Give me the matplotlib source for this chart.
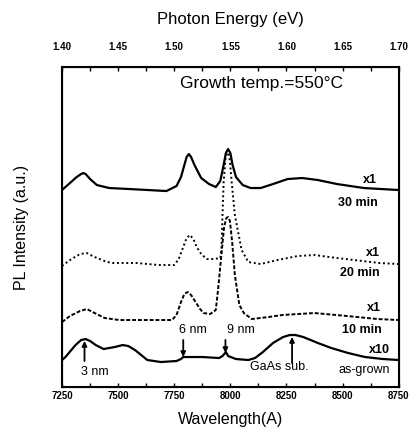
import matplotlib.pyplot as plt
import numpy as np
from matplotlib.ticker import MultipleLocator, FormatStrFormatter

plt.rcParams['font.family'] = ['Liberation Sans', 'DejaVu Sans']

# PL spectra (wavelength in A, intensity in a.u. incl. offsets)
wl_30 = [7250, 7285, 7315, 7335, 7345, 7355, 7375, 7405, 7460, 7550, 7715, 7760, 7780,
         7795, 7805, 7815, 7825, 7840, 7870, 7905, 7935, 7955, 7970, 7980, 7990, 8000,
         8010, 8025, 8055, 8090, 8135, 8190, 8255, 8320, 8390, 8475, 8595, 8750]
pl_30 = [197, 204, 210, 213, 214, 213, 208, 202, 199, 198, 196, 201, 210,
         222, 230, 233, 230, 222, 209, 203, 200, 206, 222, 234, 238, 234,
         222, 210, 202, 199, 199, 203, 208, 209, 207, 203, 199, 197]

wl_20 = [7250, 7285, 7330, 7360, 7395, 7440, 7470, 7585, 7680, 7750, 7770, 7790, 7805,
         7820, 7835, 7850, 7870, 7895, 7925, 7955, 7960, 7965, 7970, 7978, 7985, 7992,
         7998, 8005, 8020, 8050, 8080, 8135, 8210, 8300, 8375, 8475, 8665, 8750]
pl_20 = [121, 127, 133, 134, 130, 126, 124, 124, 122, 122, 128, 140, 149,
         152, 148, 140, 133, 128, 128, 129, 137, 172, 205, 228, 234, 234,
         226, 207, 172, 137, 125, 123, 127, 131, 132, 129, 124, 123]

wl_10 = [7250, 7285, 7330, 7360, 7395, 7440, 7505, 7585, 7680, 7740, 7760, 7780, 7795,
         7810, 7825, 7845, 7865, 7880, 7910, 7935, 7945, 7960, 7972, 7982, 7990, 7998,
         8008, 8020, 8040, 8060, 8095, 8170, 8230, 8375, 8520, 8655, 8750]
pl_10 = [65, 71, 76, 78, 74, 69, 67, 67, 67, 67, 72, 85, 93,
         95, 92, 85, 78, 74, 73, 77, 97, 132, 160, 169, 170, 166,
         145, 112, 82, 74, 68, 70, 72, 74, 71, 68, 67]

wl_ag = [7250, 7265, 7310, 7335, 7355, 7375, 7400, 7435, 7485, 7520, 7545, 7575, 7630,
         7690, 7760, 7780, 7790, 7815, 7875, 7950, 7965, 7980, 7990, 8025, 8080, 8110,
         8145, 8190, 8235, 8265, 8290, 8325, 8390, 8450, 8525, 8600, 8680, 8750]
pl_ag = [27, 30, 42, 47, 48, 46, 42, 38, 40, 42, 41, 37, 27,
         25, 26, 28, 30, 30, 30, 29, 31, 35, 31, 28, 27, 29,
         35, 44, 50, 52, 52, 50, 44, 39, 34, 30, 28, 27]

# marked features on the as-grown spectrum
arrow_wl = [7350, 7790, 7978, 8275]
arrow_from = [26, 47, 47, 24]
arrow_to = [46, 30, 34, 50]

fig = plt.figure(figsize=(4.11, 4.41), dpi=100)
ax = fig.add_axes([0.151, 0.1224, 0.819, 0.7256])

ax.plot(wl_30, pl_30, color='black', lw=1.6)
ax.plot(wl_20, pl_20, color='black', lw=1.4, linestyle=(0, (1, 1.4)))
ax.plot(wl_10, pl_10, color='black', lw=1.4, linestyle=(0, (2, 1)))
ax.plot(wl_ag, pl_ag, color='black', lw=1.6)

for x, y0, y1 in zip(arrow_wl, arrow_from, arrow_to):
    ax.annotate('', xy=(x, y1), xytext=(x, y0),
                arrowprops=dict(arrowstyle='-|>', color='black', lw=1.3,
                                mutation_scale=7, shrinkA=0, shrinkB=0))

ax.set_xlim(7250, 8750)
ax.set_ylim(0, 320)
ax.xaxis.set_major_locator(MultipleLocator(250))
ax.xaxis.set_minor_locator(MultipleLocator(125))
ax.tick_params(axis='x', which='both', direction='in', length=3, width=1, pad=3,
               labelsize=7)
for lab in ax.get_xticklabels():
    lab.set_fontweight('bold')
ax.set_yticks([])
for sp in ax.spines.values():
    sp.set_linewidth(1.5)

ax.set_xlabel('Wavelength(A)', fontsize=11.5, labelpad=8)
ax.set_ylabel('PL Intensity (a.u.)', fontsize=11.5, labelpad=24)

top = ax.twiny()
top.set_xlim(1.40, 1.70)
top.xaxis.set_major_locator(MultipleLocator(0.05))
top.xaxis.set_minor_locator(MultipleLocator(0.025))
top.xaxis.set_major_formatter(FormatStrFormatter('%.2f'))
top.tick_params(axis='x', which='both', direction='in', length=3, width=1, pad=11,
                labelsize=7)
for lab in top.get_xticklabels():
    lab.set_fontweight('bold')
top.set_xlabel('Photon Energy (eV)', fontsize=12, labelpad=13)

ax.text(8140, 304, 'Growth temp.=550°C', fontsize=12.5, ha='center', va='center')

ax.text(8655, 207, 'x1', fontsize=9, fontweight='bold', ha='right', va='center')
ax.text(8655, 184, '30 min', fontsize=9, fontweight='bold', ha='right', va='center')
ax.text(8665, 134, 'x1', fontsize=9, fontweight='bold', ha='right', va='center')
ax.text(8665, 114, '20 min', fontsize=9, fontweight='bold', ha='right', va='center')
ax.text(8670, 79, 'x1', fontsize=9, fontweight='bold', ha='right', va='center')
ax.text(8675, 57, '10 min', fontsize=9, fontweight='bold', ha='right', va='center')
ax.text(8710, 37, 'x10', fontsize=9, fontweight='bold', ha='right', va='center')
ax.text(8710, 17, 'as-grown', fontsize=9, ha='right', va='center')
ax.text(7396, 15, '3 nm', fontsize=9, ha='center', va='center')
ax.text(7835, 57, '6 nm', fontsize=9, ha='center', va='center')
ax.text(8045, 57, '9 nm', fontsize=9, ha='center', va='center')
ax.text(8220, 20, 'GaAs sub.', fontsize=9, ha='center', va='center')

fig.savefig('out.png', dpi=100)
